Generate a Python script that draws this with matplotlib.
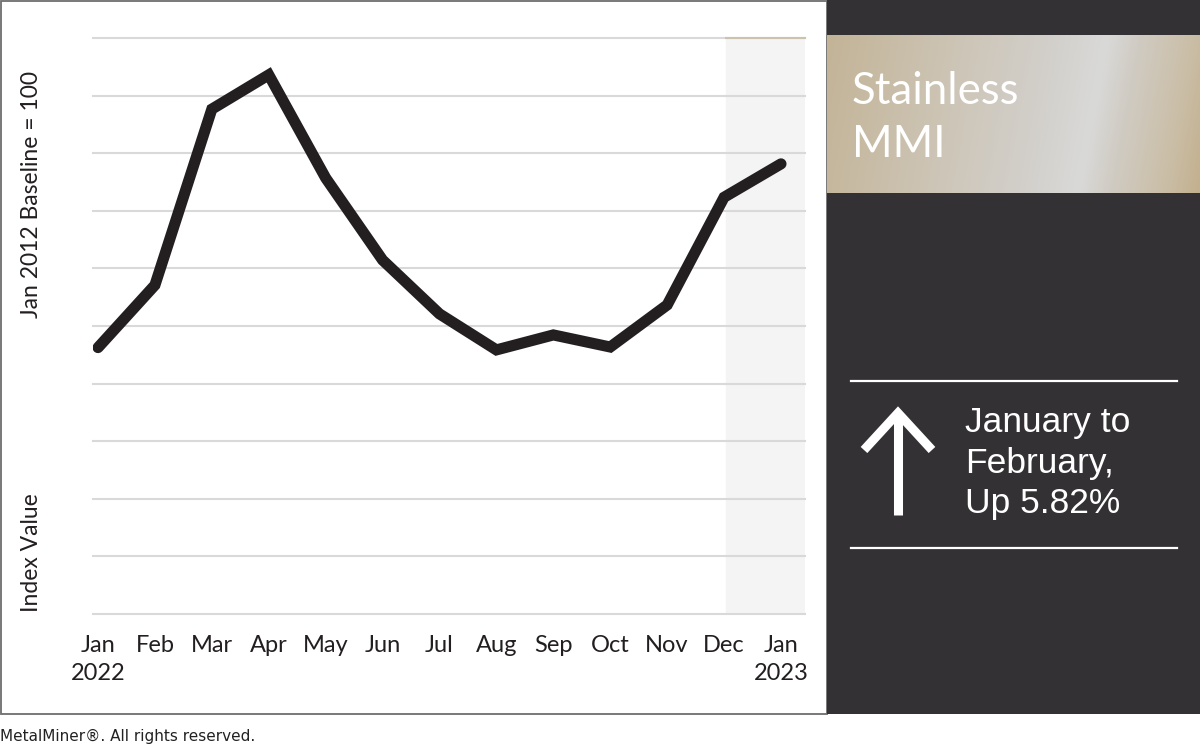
import numpy as np
import matplotlib
matplotlib.use("Agg")
import matplotlib.pyplot as plt
from matplotlib.colors import LinearSegmentedColormap
from matplotlib.patches import Rectangle

# data
months = ["Jan\n2022", "Feb", "Mar", "Apr", "May", "Jun", "Jul",
          "Aug", "Sep", "Oct", "Nov", "Dec", "Jan\n2023"]
index_values = [192.5, 214.2, 275.3, 287.2, 251.4, 222.9, 204.2,
                191.7, 196.9, 192.7, 207.3, 244.7, 256.3]
grid_levels = list(range(100, 301, 20))

title_lines = ["Stainless", "MMI"]
change_lines = ["January to", "February,", "Up 5.82%"]
footer = "MetalMiner\u00ae. All rights reserved."

W, H = 1200, 746
fig = plt.figure(figsize=(W / 100, H / 100), dpi=100)
fig.patch.set_facecolor("white")

# overlay in pixel coordinates for the panels
bg = fig.add_axes([0, 0, 1, 1], zorder=0)
bg.axis("off")

dark = "#333134"
bg.add_patch(Rectangle((0.5, 0.5), 826, 713.5, facecolor="white",
                       edgecolor="#6d6d6d", linewidth=1.3))
bg.add_patch(Rectangle((827, 0), W - 827, 714, facecolor=dark, edgecolor="none"))

# brushed metal header
gx = np.linspace(0, 1, 400)
gy = np.linspace(0, 1, 160)
GX, GY = np.meshgrid(gx, gy)
u = GX + 0.08 * GY
metal = LinearSegmentedColormap.from_list(
    "metal", [(0.0, "#c3b497"), (0.3, "#ccc3b3"), (0.55, "#d2cfca"),
              (0.7, "#d9d9d8"), (0.78, "#d0cbc2"), (0.92, "#cabda5"),
              (1.0, "#c3b08e")])
bg.imshow(u, cmap=metal, extent=(827, W, 193, 35), aspect="auto",
          origin="upper", zorder=1, vmin=0, vmax=1.08)
bg.set_xlim(0, W)
bg.set_ylim(H, 0)

bg.text(852, 104, title_lines[0], color="white", fontsize=31.5,
        family="Lato", va="baseline", ha="left", zorder=3)
bg.text(852, 157, title_lines[1], color="white", fontsize=31.5,
        family="Lato", va="baseline", ha="left", zorder=3)

# rules and arrow
bg.plot([851, 1177], [381, 381], color="white", lw=1.6, zorder=3)
bg.plot([851, 1177], [548, 548], color="white", lw=1.6, zorder=3)
bg.plot([898, 898], [515, 413], color="white", lw=6.5,
        solid_capstyle="butt", zorder=3)
bg.plot([864, 898, 932], [450, 413, 450], color="white", lw=6.5,
        solid_joinstyle="miter", solid_capstyle="butt", zorder=3)
for i, line in enumerate(change_lines):
    bg.text(965, 432 + i * 40.7, line, color="white", fontsize=25.5,
            family="Liberation Sans", va="baseline", ha="left", zorder=3)
bg.text(0, 736, footer, fontsize=11, color="#222222",
        family="DejaVu Sans", va="center", ha="left")

# y axis captions
bg.text(32, 194, "Jan 2012 Baseline = 100", rotation=90, fontsize=16.5,
        family="Lato", color="#231f20", ha="center", va="center")
bg.text(32, 553, "Index Value", rotation=90, fontsize=16.5,
        family="Lato", color="#231f20", ha="center", va="center")

# chart
ax = fig.add_axes([93 / W, 1 - 614 / H, (805 - 93) / W, (614 - 38) / H], zorder=2)
ax.patch.set_alpha(0)
x = np.arange(len(index_values))
px = (781 - 98) / 12.0
ax.set_xlim(-(98 - 93) / px, 12 + (805 - 781) / px)
ax.set_ylim(grid_levels[0], grid_levels[-1])

ax.axvspan(11.03, ax.get_xlim()[1], color="#f3f4f3", zorder=0)
for g in grid_levels:
    ax.axhline(g, color="#d9d9d9", lw=1.5, zorder=1, clip_on=False)
ax.plot([11.03, ax.get_xlim()[1]], [grid_levels[-1]] * 2, color="#cdc2ad",
        lw=1.5, zorder=1, clip_on=False)

ax.plot(x, index_values, color="#231f20", lw=8, solid_joinstyle="miter",
        solid_capstyle="round", zorder=3)

for s in ax.spines.values():
    s.set_visible(False)
ax.set_yticks([])
ax.set_xticks(x)
ax.set_xticklabels(months, fontsize=17, family="Lato", color="#231f20",
                   linespacing=1.45)
ax.tick_params(axis="x", length=0, pad=15)

fig.savefig("out.png", dpi=100)
